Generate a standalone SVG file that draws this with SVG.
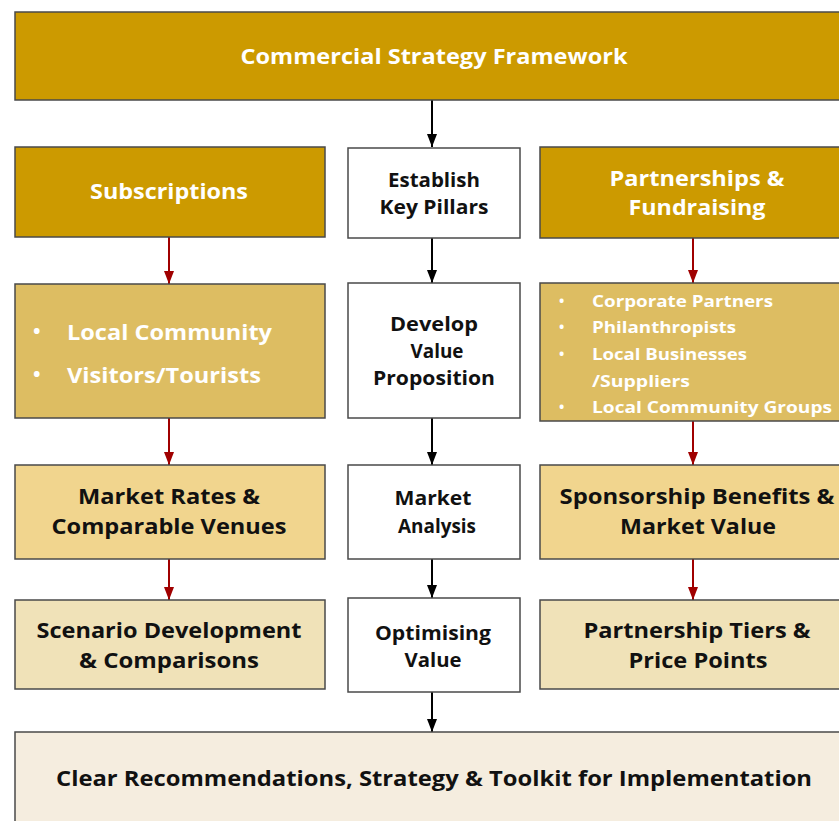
<svg xmlns="http://www.w3.org/2000/svg" width="839" height="821" viewBox="0 0 839 821">
<style>
.b{stroke:#4a4a4a;stroke-width:1.5}
.d1{fill:#CC9A00}
.d2{fill:#DDBD62}
.d3{fill:#F1D58E}
.d4{fill:#F0E2B8}
.w{fill:#ffffff}
.bt{fill:#F5EDDF}
text{font-family:"Open Sans","Noto Sans","DejaVu Sans",sans-serif;font-weight:700}
.tw{fill:#ffffff}
.tk{fill:#111111}
.c{text-anchor:middle}
.cb{stroke:#000;stroke-width:2;fill:none}
.cr{stroke:#A00000;stroke-width:2;fill:none}
</style>
<defs>
<marker id="ab" viewBox="0 0 13 10" refX="13" refY="5" markerWidth="13" markerHeight="10" markerUnits="userSpaceOnUse" orient="auto">
<path d="M0,0 L13,5 L0,10 z" fill="#000"/>
</marker>
<marker id="ar" viewBox="0 0 13 10" refX="13" refY="5" markerWidth="13" markerHeight="10" markerUnits="userSpaceOnUse" orient="auto">
<path d="M0,0 L13,5 L0,10 z" fill="#A00000"/>
</marker>
</defs>
<rect width="839" height="821" fill="#ffffff"/>

<g id="connectors">
<line class="cb" x1="432" y1="100" x2="432" y2="147" marker-end="url(#ab)"/>
<line class="cb" x1="432" y1="238" x2="432" y2="283" marker-end="url(#ab)"/>
<line class="cb" x1="432" y1="418" x2="432" y2="465" marker-end="url(#ab)"/>
<line class="cb" x1="432" y1="559" x2="432" y2="598" marker-end="url(#ab)"/>
<line class="cb" x1="432" y1="692" x2="432" y2="732" marker-end="url(#ab)"/>
<line class="cr" x1="169" y1="237" x2="169" y2="284" marker-end="url(#ar)"/>
<line class="cr" x1="169" y1="418" x2="169" y2="465" marker-end="url(#ar)"/>
<line class="cr" x1="169" y1="559" x2="169" y2="600" marker-end="url(#ar)"/>
<line class="cr" x1="693" y1="238" x2="693" y2="283" marker-end="url(#ar)"/>
<line class="cr" x1="693" y1="421" x2="693" y2="465" marker-end="url(#ar)"/>
<line class="cr" x1="693" y1="559" x2="693" y2="600" marker-end="url(#ar)"/>
</g>

<g id="top">
<rect class="b d1" x="15" y="12" width="830" height="88"/>
<text class="tw c" x="434" y="64" font-size="22" textLength="387" lengthAdjust="spacingAndGlyphs">Commercial Strategy Framework</text>
</g>

<g id="subscriptions">
<rect class="b d1" x="15" y="147" width="310" height="90"/>
<text class="tw c" x="169" y="199" font-size="22" textLength="158" lengthAdjust="spacingAndGlyphs">Subscriptions</text>
</g>
<g id="sub-segments">
<rect class="b d2" x="15" y="284" width="310" height="134"/>
<text class="tw" x="33" y="338" font-size="20">•</text>
<text class="tw" x="67" y="340" font-size="22" textLength="205" lengthAdjust="spacingAndGlyphs">Local Community</text>
<text class="tw" x="33" y="381" font-size="20">•</text>
<text class="tw" x="67" y="383" font-size="22" textLength="194" lengthAdjust="spacingAndGlyphs">Visitors/Tourists</text>
</g>
<g id="market-rates">
<rect class="b d3" x="15" y="465" width="310" height="94"/>
<text class="tk c" x="169" y="504" font-size="21" textLength="182" lengthAdjust="spacingAndGlyphs">Market Rates &amp;</text>
<text class="tk c" x="169" y="534" font-size="21" textLength="235" lengthAdjust="spacingAndGlyphs">Comparable Venues</text>
</g>
<g id="scenario">
<rect class="b d4" x="15" y="600" width="310" height="89"/>
<text class="tk c" x="169" y="638" font-size="21" textLength="265" lengthAdjust="spacingAndGlyphs">Scenario Development</text>
<text class="tk c" x="169" y="668" font-size="21" textLength="180" lengthAdjust="spacingAndGlyphs">&amp; Comparisons</text>
</g>

<g id="establish">
<rect class="b w" x="348" y="148" width="172" height="90"/>
<text class="tk c" x="434" y="187" font-size="19" textLength="92" lengthAdjust="spacingAndGlyphs">Establish</text>
<text class="tk c" x="434" y="214" font-size="19" textLength="109" lengthAdjust="spacingAndGlyphs">Key Pillars</text>
</g>
<g id="develop">
<rect class="b w" x="348" y="283" width="172" height="135"/>
<text class="tk c" x="434" y="331" font-size="19" textLength="88" lengthAdjust="spacingAndGlyphs">Develop</text>
<text class="tk c" x="437" y="358" font-size="19" textLength="53" lengthAdjust="spacingAndGlyphs">Value</text>
<text class="tk c" x="434" y="385" font-size="19" textLength="122" lengthAdjust="spacingAndGlyphs">Proposition</text>
</g>
<g id="market-analysis">
<rect class="b w" x="348" y="465" width="172" height="94"/>
<text class="tk c" x="433" y="505" font-size="19" textLength="77" lengthAdjust="spacingAndGlyphs">Market</text>
<text class="tk c" x="437" y="533" font-size="19" textLength="78" lengthAdjust="spacingAndGlyphs">Analysis</text>
</g>
<g id="optimising">
<rect class="b w" x="348" y="598" width="172" height="94"/>
<text class="tk c" x="433" y="640" font-size="19" textLength="116" lengthAdjust="spacingAndGlyphs">Optimising</text>
<text class="tk c" x="433" y="667" font-size="19" textLength="57" lengthAdjust="spacingAndGlyphs">Value</text>
</g>

<g id="partnerships">
<rect class="b d1" x="540" y="147" width="305" height="91"/>
<text class="tw c" x="697" y="186" font-size="22" textLength="175" lengthAdjust="spacingAndGlyphs">Partnerships &amp;</text>
<text class="tw c" x="697" y="215" font-size="22" textLength="137" lengthAdjust="spacingAndGlyphs">Fundraising</text>
</g>
<g id="partner-types">
<rect class="b d2" x="540" y="283" width="305" height="138"/>
<text class="tw" x="559" y="306" font-size="14">•</text>
<text class="tw" x="592" y="307" font-size="16" textLength="181" lengthAdjust="spacingAndGlyphs">Corporate Partners</text>
<text class="tw" x="559" y="332" font-size="14">•</text>
<text class="tw" x="592" y="333" font-size="16" textLength="144" lengthAdjust="spacingAndGlyphs">Philanthropists</text>
<text class="tw" x="559" y="359" font-size="14">•</text>
<text class="tw" x="592" y="360" font-size="16" textLength="155" lengthAdjust="spacingAndGlyphs">Local Businesses</text>
<text class="tw" x="592" y="387" font-size="16" textLength="98" lengthAdjust="spacingAndGlyphs">/Suppliers</text>
<text class="tw" x="559" y="412" font-size="14">•</text>
<text class="tw" x="592" y="413" font-size="16" textLength="240" lengthAdjust="spacingAndGlyphs">Local Community Groups</text>
</g>
<g id="sponsorship">
<rect class="b d3" x="540" y="465" width="305" height="94"/>
<text class="tk c" x="697" y="504" font-size="21" textLength="275" lengthAdjust="spacingAndGlyphs">Sponsorship Benefits &amp;</text>
<text class="tk c" x="698" y="534" font-size="21" textLength="156" lengthAdjust="spacingAndGlyphs">Market Value</text>
</g>
<g id="tiers">
<rect class="b d4" x="540" y="600" width="305" height="89"/>
<text class="tk c" x="697" y="638" font-size="21" textLength="227" lengthAdjust="spacingAndGlyphs">Partnership Tiers &amp;</text>
<text class="tk c" x="698" y="668" font-size="21" textLength="139" lengthAdjust="spacingAndGlyphs">Price Points</text>
</g>

<g id="recommendations">
<rect class="b bt" x="15" y="732" width="830" height="100"/>
<text class="tk c" x="434" y="786" font-size="22" textLength="756" lengthAdjust="spacingAndGlyphs">Clear Recommendations, Strategy &amp; Toolkit for Implementation</text>
</g>
</svg>
